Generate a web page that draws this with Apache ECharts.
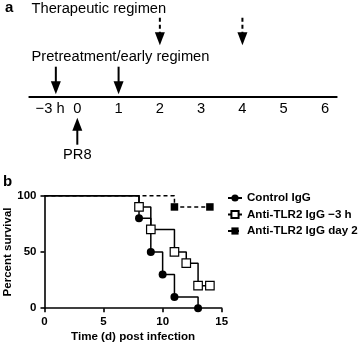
<!DOCTYPE html>
<html><head><meta charset="utf-8">
<script src="https://cdn.jsdelivr.net/npm/echarts@6/dist/echarts.min.js"></script>
<style>html,body{margin:0;padding:0;background:#fff}#c{width:358px;height:346px}</style>
</head><body><div id="c"></div>
<script>
// ---- Panel a: timeline ----
const timelineTickPositions = [-0.66, 0, 1, 2, 3, 4, 5, 6];
const timelineTickLabels = ['\u22123 h', '0', '1', '2', '3', '4', '5', '6'];
const pretreatmentDays = [-0.52, 1];
const therapeuticDays = [2, 4];
const infectionDays = [0];
const infectionLabel = 'PR8';
const therapeuticTitle = 'Therapeutic regimen';
const pretreatmentTitle = 'Pretreatment/early regimen';

// ---- Panel b: survival ----
const controlTimes = [0, 8, 9, 10, 11, 13];
const controlSurvival = [100, 80, 50, 30, 10, 0];
const earlyTimes = [0, 8, 9, 11, 12, 13, 14];
const earlySurvival = [100, 90, 70, 50, 40, 20, 20];
const day2Times = [0, 11, 14];
const day2Survival = [100, 90, 90];
const seriesNames = ['Control IgG', 'Anti-TLR2 IgG \u22123 h', 'Anti-TLR2 IgG day 2'];
const xTitle = 'Time (d) post infection';
const yTitle = 'Percent survival';

const FONT = '"Liberation Sans", Arial, Helvetica, sans-serif';
const chart = echarts.init(document.getElementById('c'), null, {renderer: 'canvas'});

function arrowSeries(days, kind, label) {
  return {
    type: 'custom', xAxisIndex: 0, yAxisIndex: 0, silent: true, clip: false,
    data: days.map(d => [d, 0]),
    renderItem: (params, api) => {
      const cs = params.coordSys;
      const x = api.coord([api.value(0), 0])[0];
      const base = cs.y + cs.height;
      let y0, y1, dashed = false;
      if (kind === 'pre') { y0 = base - 30; y1 = base - 2.5; }
      else if (kind === 'ther') { y0 = base - 79; y1 = base - 51.5; dashed = true; }
      else { y0 = base + 48; y1 = base + 21; }
      const dir = y1 > y0 ? 1 : -1;
      const headLen = 13, headW = 5;
      const hy = y1 - dir * headLen;
      const children = [
        {type: 'line', shape: {x1: x, y1: y0, x2: x, y2: hy + dir * 1},
         style: {stroke: '#000', lineWidth: 2, lineDash: dashed ? [4, 3] : null}},
        {type: 'polygon', shape: {points: [[x - headW, hy], [x + headW, hy], [x, y1]]},
         style: {fill: '#000'}}
      ];
      if (label) {
        children.push({type: 'text', style: {text: label, x: x, y: y0 + 10, align: 'center',
          verticalAlign: 'middle', font: '14.7px ' + FONT, fill: '#000'}});
      }
      return {type: 'group', children};
    }
  };
}

function kmData(times, surv) {
  return times.map((t, i) => i === 0 ? {value: [t, surv[i]], symbol: 'none'} : [t, surv[i]]);
}

const option = {
  animation: false,
  textStyle: {fontFamily: FONT},
  grid: [
    {left: 29.3, top: 0, width: 307.4, height: 96.7},
    {left: 44.5, top: 195.7, width: 177.2, height: 112.5}
  ],
  xAxis: [
    {gridIndex: 0, type: 'value', min: -1.163, max: 6.284,
     axisLine: {onZero: false, lineStyle: {color: '#000', width: 2}},
     axisTick: {show: false}, splitLine: {show: false},
     axisLabel: {customValues: timelineTickPositions, margin: 5, color: '#000', fontSize: 14.7, fontFamily: FONT,
       formatter: v => { const i = timelineTickPositions.findIndex(p => Math.abs(p - v) < 1e-6); return i >= 0 ? timelineTickLabels[i] : ''; }}},
    {gridIndex: 1, type: 'value', min: 0, max: 15, interval: 5,
     name: xTitle, nameLocation: 'middle', nameGap: 23,
     nameTextStyle: {color: '#000', fontSize: 11.6, fontWeight: 'bold', fontFamily: FONT},
     axisLine: {onZero: false, lineStyle: {color: '#000', width: 1.6}},
     axisTick: {length: 4, lineStyle: {color: '#000', width: 1.6}}, splitLine: {show: false},
     axisLabel: {margin: 8, color: '#000', fontSize: 11.5, fontWeight: 'bold', fontFamily: FONT}}
  ],
  yAxis: [
    {gridIndex: 0, type: 'value', min: 0, max: 1, show: false},
    {gridIndex: 1, type: 'value', min: 0, max: 100, interval: 50,
     name: yTitle, nameLocation: 'middle', nameGap: 27, nameRotate: 90,
     nameTextStyle: {color: '#000', fontSize: 11.5, fontWeight: 'bold', fontFamily: FONT},
     axisLine: {onZero: false, lineStyle: {color: '#000', width: 1.6}},
     axisTick: {length: 4, lineStyle: {color: '#000', width: 1.6}}, splitLine: {show: false},
     axisLabel: {margin: 8, color: '#000', fontSize: 11.5, fontWeight: 'bold', fontFamily: FONT}}
  ],
  legend: {
    orient: 'vertical', left: 227, top: 192, padding: 0,
    itemWidth: 14, itemHeight: 9, itemGap: 4.5,
    textStyle: {color: '#000', fontSize: 11.6, fontWeight: 'bold', fontFamily: FONT},
    data: seriesNames
  },
  graphic: [
    {type: 'text', left: 5, top: 0, style: {text: 'a', font: 'bold 15px ' + FONT, fill: '#000'}},
    {type: 'text', left: 3, top: 174, style: {text: 'b', font: 'bold 15px ' + FONT, fill: '#000'}},
    {type: 'text', left: 31.5, top: 1.5, style: {text: therapeuticTitle, font: '14.7px ' + FONT, fill: '#000'}},
    {type: 'text', left: 31.5, top: 49.5, style: {text: pretreatmentTitle, font: '14.7px ' + FONT, fill: '#000'}}
  ],
  series: [
    arrowSeries(pretreatmentDays, 'pre'),
    arrowSeries(therapeuticDays, 'ther'),
    arrowSeries(infectionDays, 'inf', infectionLabel),
    {name: seriesNames[2], type: 'line', xAxisIndex: 1, yAxisIndex: 1, step: 'end',
     data: kmData(day2Times, day2Survival), symbol: 'rect', symbolSize: 7.5,
     lineStyle: {color: '#000', width: 1.5, type: [4, 3]}, itemStyle: {color: '#000'}},
    {name: seriesNames[0], type: 'line', xAxisIndex: 1, yAxisIndex: 1, step: 'end',
     data: kmData(controlTimes, controlSurvival), symbol: 'circle', symbolSize: 8,
     lineStyle: {color: '#000', width: 1.5}, itemStyle: {color: '#000'}},
    {name: seriesNames[1], type: 'line', xAxisIndex: 1, yAxisIndex: 1, step: 'end',
     data: kmData(earlyTimes, earlySurvival), symbol: 'rect', symbolSize: 8.5,
     lineStyle: {color: '#000', width: 1.5}, itemStyle: {color: '#fff', borderColor: '#000', borderWidth: 1.2}}
  ]
};
chart.setOption(option);
</script>
</body></html>
